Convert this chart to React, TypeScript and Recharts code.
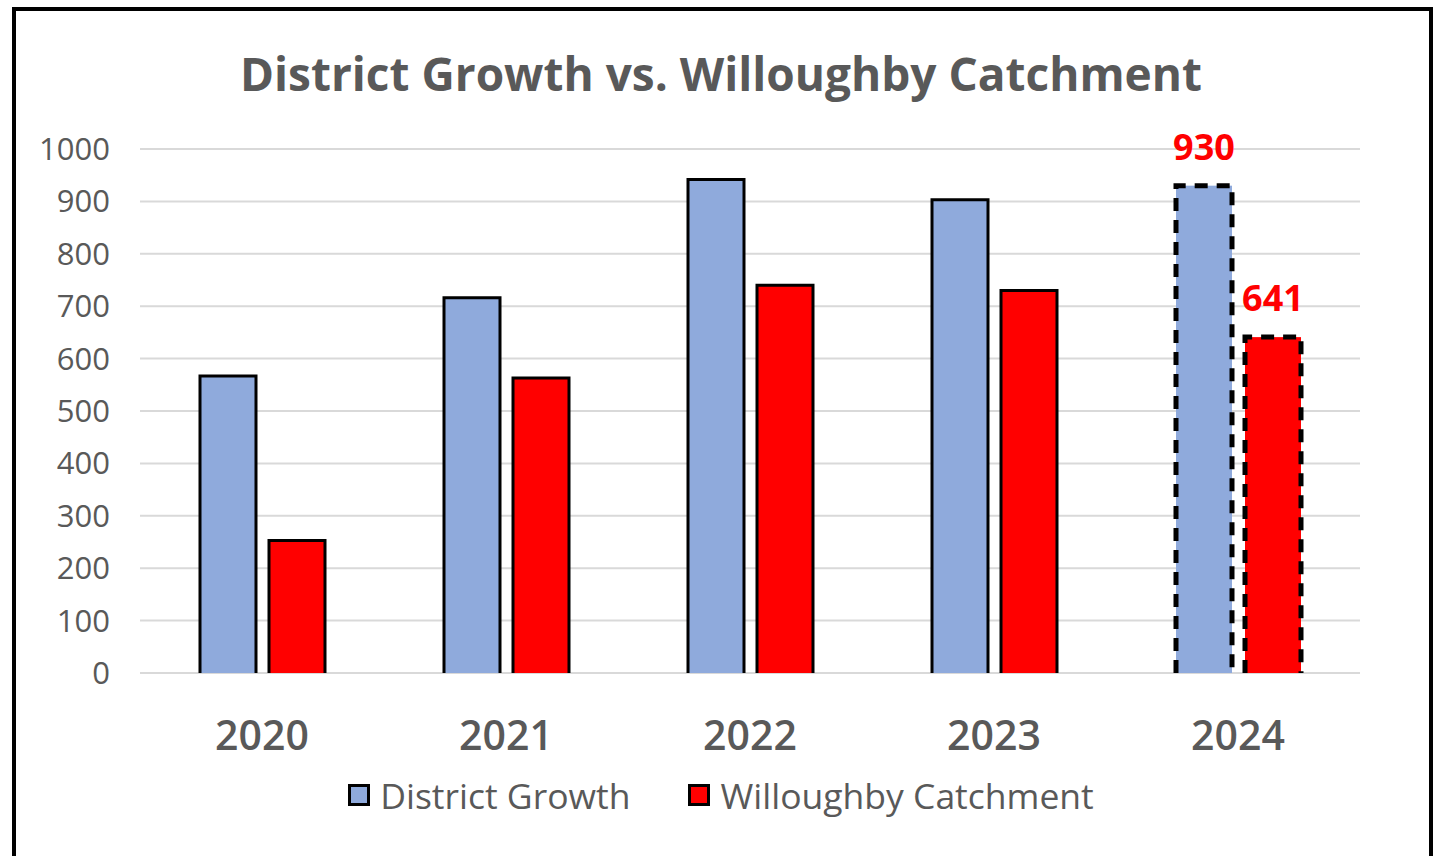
import React from "react";
import { BarChart, Bar, XAxis, YAxis, CartesianGrid, Legend, LabelList, Cell } from "recharts";

const years = ["2020", "2021", "2022", "2023", "2024"];
const districtGrowth = [567, 716, 942, 903, 930];
const willoughbyCatchment = [253, 563, 740, 730, 641];
// only the last year carries a data label
const districtLabels = [null, null, null, null, 930];
const catchmentLabels = [null, null, null, null, 641];
const yTicks = [0, 100, 200, 300, 400, 500, 600, 700, 800, 900, 1000];

const BLUE = "#8FAADC";
const RED = "#FF0000";
const GREY = "#595959";
const FONT = "'Open Sans', 'Noto Sans', sans-serif";

const data = years.map((year, i) => ({
  year,
  district: districtGrowth[i],
  catchment: willoughbyCatchment[i],
  districtLabel: districtLabels[i],
  catchmentLabel: catchmentLabels[i],
}));

// bar with border on left, top and right only (no line along the baseline)
function OpenBar(props: any) {
  const { x, y, width, height, fill, stroke, strokeWidth, strokeDasharray } = props;
  if (!height) return null;
  const b = y + height;
  return (
    <g>
      <rect x={x} y={y} width={width} height={height} fill={fill} />
      <path
        d={`M${x},${b} L${x},${y} L${x + width},${y} L${x + width},${b}`}
        fill="none"
        stroke={stroke}
        strokeWidth={strokeWidth}
        strokeDasharray={strokeDasharray}
        strokeLinejoin="miter"
      />
    </g>
  );
}

function RedLabel(props: any) {
  const { x, y, width, value } = props;
  if (value == null) return null;
  return (
    <text
      x={x + width / 2}
      y={y - 26}
      textAnchor="middle"
      fill={RED}
      fontFamily={FONT}
      fontWeight={700}
      fontSize={36}
    >
      {value}
    </text>
  );
}

function ChartLegend() {
  const items = [
    { label: "District Growth", color: BLUE },
    { label: "Willoughby Catchment", color: RED },
  ];
  return (
    <div
      style={{
        height: 44,
        display: "flex",
        justifyContent: "center",
        alignItems: "center",
        gap: 58,
        fontFamily: FONT,
        fontSize: 35.5,
        color: GREY,
      }}
    >
      {items.map((it) => (
        <div key={it.label} style={{ display: "flex", alignItems: "center", gap: 10 }}>
          <span
            style={{
              width: 16,
              height: 16,
              background: it.color,
              border: "3px solid #000",
              display: "inline-block",
            }}
          />
          <span>{it.label}</span>
        </div>
      ))}
    </div>
  );
}

export default function App() {
  return (
    <div style={{ position: "absolute", left: 0, top: 0, width: 1442, height: 856, background: "#fff" }}>
      <div
        style={{
          position: "absolute",
          left: 12,
          top: 7,
          width: 1413,
          height: 870,
          border: "4px solid #000",
        }}
      />
      <div
        style={{
          position: "absolute",
          left: 0,
          top: 42,
          width: 1442,
          textAlign: "center",
          fontFamily: FONT,
          fontWeight: 700,
          fontSize: 46,
          color: GREY,
          lineHeight: "62px",
        }}
      >
        District Growth vs. Willoughby Catchment
      </div>
      <div style={{ position: "absolute", left: 0, top: 0 }}>
        <BarChart
          width={1442}
          height={856}
          data={data}
          margin={{ top: 149, right: 82, bottom: 39, left: 10 }}
          barGap={13}
          barCategoryGap={60}
        >
          <CartesianGrid vertical={false} stroke="#d9d9d9" strokeWidth={2} />
          <XAxis
            dataKey="year"
            axisLine={false}
            tickLine={false}
            tickSize={0}
            tickMargin={48}
            height={100}
            tick={{ fontSize: 41, fontWeight: 600, fill: GREY, fontFamily: FONT }}
          />
          <YAxis
            domain={[0, 1000]}
            ticks={yTicks}
            width={130}
            axisLine={false}
            tickLine={false}
            tickSize={0}
            tickMargin={30}
            tick={{ fontSize: 31, fill: GREY, fontFamily: FONT }}
          />
          <Legend
            verticalAlign="bottom"
            content={<ChartLegend />}
            wrapperStyle={{ left: 0, width: 1442 }}
          />
          <Bar
            dataKey="district"
            name="District Growth"
            fill={BLUE}
            shape={<OpenBar />}
            isAnimationActive={false}
          >
            {data.map((d, i) => (
              <Cell
                key={d.year}
                stroke="#000"
                strokeWidth={i === 4 ? 5 : 3}
                strokeDasharray={i === 4 ? "13 9" : undefined}
              />
            ))}
            <LabelList dataKey="districtLabel" content={<RedLabel />} />
          </Bar>
          <Bar
            dataKey="catchment"
            name="Willoughby Catchment"
            fill={RED}
            shape={<OpenBar />}
            isAnimationActive={false}
          >
            {data.map((d, i) => (
              <Cell
                key={d.year}
                stroke="#000"
                strokeWidth={i === 4 ? 5 : 3}
                strokeDasharray={i === 4 ? "13 9" : undefined}
              />
            ))}
            <LabelList dataKey="catchmentLabel" content={<RedLabel />} />
          </Bar>
        </BarChart>
      </div>
    </div>
  );
}
